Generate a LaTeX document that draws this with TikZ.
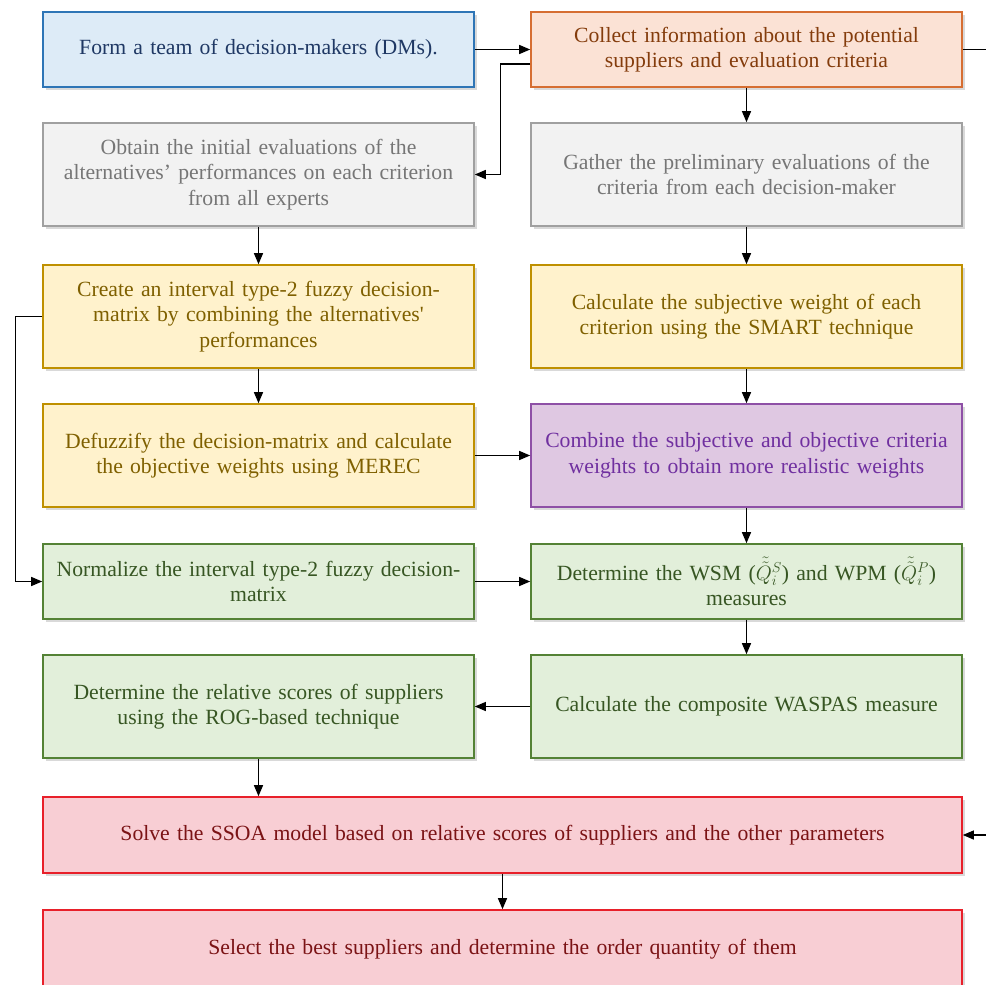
\documentclass[tikz,border=0pt]{standalone}
\usepackage{amsmath}
\usepackage{fontspec}
\setmainfont{Liberation Serif}
\usepackage{xcolor}
\usepackage{tikz}
\usetikzlibrary{arrows.meta, shadows, positioning}
\definecolor{teamblue}{RGB}{46, 117, 182}
\definecolor{teamfill}{RGB}{221, 235, 247}
\definecolor{teamtext}{RGB}{31, 56, 100}
\definecolor{infoorange}{RGB}{214, 110, 50}
\definecolor{infofill}{RGB}{251, 226, 213}
\definecolor{infotext}{RGB}{132, 60, 12}
\definecolor{evalgray}{RGB}{160, 160, 160}
\definecolor{evalfill}{RGB}{242, 242, 242}
\definecolor{evaltext}{RGB}{118, 118, 118}
\definecolor{fuzzyellow}{RGB}{191, 144, 0}
\definecolor{fuzzfill}{RGB}{255, 242, 204}
\definecolor{fuzztext}{RGB}{127, 96, 0}
\definecolor{mixpurple}{RGB}{142, 80, 166}
\definecolor{mixfill}{RGB}{223, 200, 226}
\definecolor{mixtext}{RGB}{112, 48, 160}
\definecolor{rankgreen}{RGB}{84, 130, 53}
\definecolor{rankfill}{RGB}{226, 239, 218}
\definecolor{ranktext}{RGB}{55, 86, 35}
\definecolor{ssoared}{RGB}{232, 32, 42}
\definecolor{ssoafill}{RGB}{248, 206, 212}
\definecolor{ssoatext}{RGB}{123, 19, 21}

\begin{document}
\begin{tikzpicture}[x=1pt, y=-1pt,
    stepbox/.style={draw, line width=1.6pt, minimum width=431pt,
        minimum height=103pt, text width=424pt, align=center, inner sep=0pt,
        font=\fontsize{21.7}{25.5}\selectfont,
        drop shadow={shadow xshift=3pt, shadow yshift=-3pt, opacity=0.3}},
    teambox/.style={stepbox, draw=teamblue, fill=teamfill, text=teamtext},
    infobox/.style={stepbox, draw=infoorange, fill=infofill, text=infotext},
    evalbox/.style={stepbox, draw=evalgray, fill=evalfill, text=evaltext},
    fuzzbox/.style={stepbox, draw=fuzzyellow, fill=fuzzfill, text=fuzztext},
    mixbox/.style={stepbox, draw=mixpurple, fill=mixfill, text=mixtext},
    rankbox/.style={stepbox, draw=rankgreen, fill=rankfill, text=ranktext},
    ssoabox/.style={stepbox, draw=ssoared, fill=ssoafill, text=ssoatext,
        minimum width=919pt, text width=900pt},
    flow/.style={-{Triangle[length=11pt, width=9pt]}, line width=1.2pt}]
    \useasboundingbox (0,0) rectangle (986,985);

    % left and right columns
    \node[teambox, minimum height=75pt] (team) at (258.5,49.5)
        {Form a team of decision-makers (DMs).};
    \node[infobox, minimum height=75pt] (collect) at (746.5,49.5)
        {Collect information about the potential\\suppliers and evaluation criteria};
    \node[evalbox] (obtain) at (258.5,174.5)
        {Obtain the initial evaluations of the\\alternatives’ performances on each criterion\\from all experts};
    \node[evalbox] (gather) at (746.5,174.5)
        {Gather the preliminary evaluations of the\\criteria from each decision-maker};
    \node[fuzzbox] (create) at (258.5,316.5)
        {Create an interval type-2 fuzzy decision-\\matrix by combining the alternatives\textquotesingle\\performances};
    \node[fuzzbox] (smart) at (746.5,316.5)
        {Calculate the subjective weight of each\\criterion using the SMART technique};
    \node[fuzzbox] (defuzz) at (258.5,455.5)
        {Defuzzify the decision-matrix and calculate\\the objective weights using MEREC};
    \node[mixbox] (combine) at (746.5,455.5)
        {Combine the subjective and objective criteria\\weights to obtain more realistic weights};
    \node[rankbox, minimum height=75pt] (normal) at (258.5,581.5)
        {Normalize the interval type-2 fuzzy decision-\\matrix};
    \node[rankbox, minimum height=75pt] (wsm) at (746.5,581.5)
        {Determine the WSM ($\tilde{\tilde{Q}}_i^S$) and WPM ($\tilde{\tilde{Q}}_i^P$)\\measures};
    \node[rankbox] (rog) at (258.5,706.5)
        {Determine the relative scores of suppliers\\using the ROG-based technique};
    \node[rankbox] (waspas) at (746.5,706.5)
        {Calculate the composite WASPAS measure};

    % full width steps
    \node[ssoabox, minimum height=76pt] (ssoa) at (502.5,835)
        {Solve the SSOA model based on relative scores of suppliers and the other parameters};
    \node[ssoabox, minimum height=78pt] (select) at (502.5,949)
        {Select the best suppliers and determine the order quantity of them};

    % connectors
    \draw[flow] (team) -- (collect);
    \draw[flow] ([yshift=-14.5pt]collect.west) -- ++(-30,0) |- (obtain.east);
    \draw[flow] (collect.east) -- ++(40,0) |- (ssoa.east);
    \draw[flow] (collect) -- (gather);
    \draw[flow] (obtain) -- (create);
    \draw[flow] (gather) -- (smart);
    \draw[flow] (create) -- (defuzz);
    \draw[flow] (create.west) -- ++(-27,0) |- (normal.west);
    \draw[flow] (smart) -- (combine);
    \draw[flow] (defuzz) -- (combine);
    \draw[flow] (combine) -- (wsm);
    \draw[flow] (normal) -- (wsm);
    \draw[flow] (wsm) -- (waspas);
    \draw[flow] (waspas) -- (rog);
    \draw[flow] (rog.south) -- (rog.south |- ssoa.north);
    \draw[flow] (ssoa) -- (select);
\end{tikzpicture}
\end{document}
